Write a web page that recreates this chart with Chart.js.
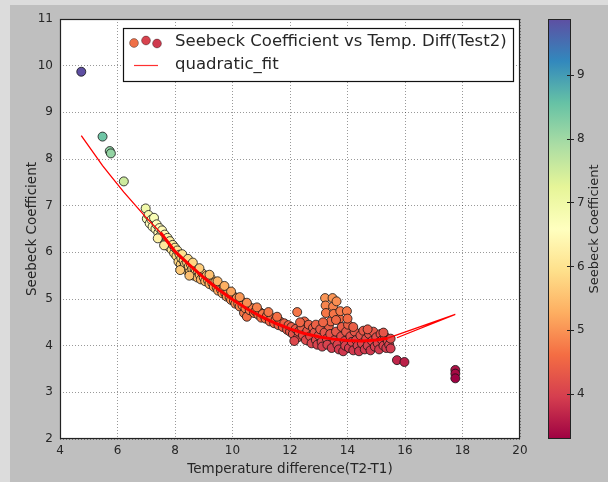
<!DOCTYPE html>
<html><head><meta charset="utf-8">
<script src="https://cdn.jsdelivr.net/npm/chart.js@4.4.0/dist/chart.umd.min.js"></script>
<style>html,body{margin:0;padding:0;background:#d9d9d9;}canvas{display:block;}</style>
</head><body>
<canvas id="c" width="608" height="482"></canvas>
<script>
// ---- data ----
const seriesLabel = 'Seebeck Coefficient vs Temp. Diff(Test2)';
const fitLabel = 'quadratic_fit';
const xTitle = 'Temperature difference(T2-T1)';
const yTitle = 'Seebeck Coefficient';
const cbarTitle = 'Seebeck Coefficient';

// [temperature difference, seebeck coefficient]
const measured = [
  [4.74,9.87],[5.48,8.48],[5.73,8.17],[5.77,8.12],[6.22,7.52],[6.98,6.94],
  [7.02,6.72],[7.08,6.80],[7.12,6.62],[7.18,6.70],[7.22,6.55],[7.27,6.74],[7.32,6.50],[7.36,6.60],
  [7.42,6.42],[7.46,6.52],[7.50,6.36],[7.55,6.47],[7.60,6.28],[7.64,6.38],[7.70,6.22],[7.74,6.31],
  [7.78,6.12],[7.82,6.24],[7.88,6.06],[7.92,6.16],[7.97,5.98],[8.00,6.10],[7.40,6.30],[7.62,6.15],
  [8.05,5.92],[8.08,6.04],[8.12,5.80],[8.16,5.95],[8.20,5.74],[8.22,5.88],[8.28,5.66],[8.30,5.82],
  [8.35,5.75],[8.40,5.62],[8.42,5.78],[8.48,5.70],[8.52,5.58],[8.55,5.74],[8.60,5.64],[8.65,5.50],
  [8.68,5.66],[8.72,5.58],[8.78,5.46],[8.80,5.60],[8.86,5.52],[8.90,5.42],[8.95,5.55],[9.00,5.46],
  [8.25,5.96],[8.45,5.86],[8.62,5.78],[8.85,5.66],[8.18,5.62],[8.50,5.50],
  [9.05,5.38],[9.10,5.50],[9.15,5.40],[9.20,5.32],[9.25,5.44],[9.30,5.34],[9.35,5.26],[9.40,5.36],
  [9.45,5.25],[9.50,5.18],[9.55,5.29],[9.60,5.20],[9.65,5.12],[9.70,5.22],[9.75,5.12],[9.80,5.05],
  [9.85,5.15],[9.90,5.04],[9.95,4.98],[10.00,5.08],[9.20,5.52],[9.48,5.38],[9.72,5.28],[9.95,5.16],
  [10.05,4.96],[10.10,4.90],[10.15,5.02],[10.20,4.90],[10.25,4.84],[10.30,4.96],[10.35,4.86],[10.40,4.70],
  [10.45,4.80],[10.50,4.62],[10.55,4.85],[10.60,4.76],[10.70,4.80],[10.75,4.70],[10.80,4.74],[10.90,4.66],
  [10.95,4.72],[11.00,4.60],[10.25,5.04],[10.50,4.92],[10.85,4.82],
  [11.05,4.68],[11.15,4.58],[11.20,4.64],[11.30,4.52],[11.35,4.60],[11.45,4.48],[11.50,4.56],[11.60,4.44],
  [11.65,4.52],[11.75,4.40],[11.80,4.48],[11.90,4.34],[11.95,4.44],[12.00,4.30],[11.25,4.72],[11.55,4.62],
  [12.05,4.40],[12.10,4.25],[12.20,4.36],[12.25,4.72],[12.28,4.18],[12.30,4.30],[12.40,4.40],[12.45,4.22],
  [12.50,4.52],[12.55,4.12],[12.60,4.32],[12.65,4.45],[12.70,4.20],[12.75,4.05],[12.80,4.38],[12.85,4.28],
  [12.90,4.12],[12.95,4.02],[13.00,4.22],[12.15,4.10],[12.35,4.50],[12.90,4.45],
  [13.05,4.35],[13.10,4.08],[13.12,3.98],[13.20,4.28],[13.22,5.02],[13.24,4.86],[13.25,4.70],[13.28,4.15],
  [13.30,4.02],[13.35,4.42],[13.40,4.25],[13.42,4.52],[13.45,3.95],[13.48,5.02],[13.50,4.84],[13.52,4.68],
  [13.55,4.12],[13.60,4.30],[13.62,4.95],[13.65,4.02],[13.70,3.92],[13.72,4.58],[13.75,4.74],[13.78,4.20],
  [13.80,4.40],[13.85,3.88],[13.90,4.10],[13.92,4.00],[13.95,4.30],[13.98,4.74],[13.15,4.50],[13.60,4.55],
  [14.02,4.45],[14.05,3.95],[14.10,4.20],[14.15,4.08],[14.20,3.90],[14.25,4.30],[14.30,4.12],[14.35,4.00],
  [14.40,3.88],[14.45,4.22],[14.50,4.05],[14.55,4.32],[14.60,3.92],[14.65,4.15],[14.70,4.00],[14.75,4.25],
  [14.80,3.90],[14.85,4.10],[14.90,4.30],[14.95,3.98],[15.00,4.18],[15.05,4.05],[15.10,3.92],[15.15,4.25],
  [15.20,4.12],[15.25,4.00],[15.30,4.20],[15.35,3.95],[15.40,4.10],[15.45,4.02],[15.50,3.94],[15.50,4.15],
  [14.20,4.40],[14.00,4.58],[14.70,4.35],[15.25,4.28],
  [15.72,3.69],[15.98,3.65],[17.75,3.48],[17.75,3.40],[17.75,3.30]
];

// quadratic fit curve as drawn (in data order, incl. the return stroke)
const fitCurve = [
  [4.74,8.50],[5.48,7.86],[5.75,7.65],[6.22,7.29],[6.96,6.77],[7.50,6.42],[8.00,6.02],[8.50,5.73],
  [9.00,5.46],[9.50,5.21],[10.00,4.99],[10.50,4.79],[11.00,4.62],[11.50,4.48],[12.00,4.36],[12.50,4.26],
  [13.00,4.19],[13.50,4.14],[14.00,4.11],[14.50,4.10],[15.00,4.12],[15.40,4.16],[17.75,4.67],[15.72,4.17]
];

const xTickValues = [4,6,8,10,12,14,16,18,20];
const yTickValues = [2,3,4,5,6,7,8,9,10,11];
const cbarTickValues = [4,5,6,7,8,9];

// ---- colormap (Spectral) ----
const spectralStops = ['#9e0142','#d53e4f','#f46d43','#fdae61','#fee08b','#ffffbf','#e6f598','#abdda4','#66c2a5','#3288bd','#5e4fa2'];
function hex(h){return [parseInt(h.slice(1,3),16),parseInt(h.slice(3,5),16),parseInt(h.slice(5,7),16)];}
function spectral(t){
  t = Math.max(0, Math.min(1, t));
  const p = t*(spectralStops.length-1);
  const i = Math.min(Math.floor(p), spectralStops.length-2);
  const f = p - i;
  const a = hex(spectralStops[i]), b = hex(spectralStops[i+1]);
  return `rgb(${Math.round(a[0]+(b[0]-a[0])*f)},${Math.round(a[1]+(b[1]-a[1])*f)},${Math.round(a[2]+(b[2]-a[2])*f)})`;
}
const ys = measured.map(p=>p[1]);
const cMin = Math.min(...ys), cMax = Math.max(...ys);

const FONT = 'DejaVu Sans';
const TXT = '#262626';

const decor = {
  id:'decor',
  beforeDraw(chart){
    const {ctx, chartArea:a} = chart;
    ctx.save();
    ctx.fillStyle = '#dcdcdc'; ctx.fillRect(0,0,chart.width,chart.height);
    ctx.fillStyle = '#bfbfbf'; ctx.fillRect(10,5,chart.width-10,chart.height-5);
    ctx.fillStyle = '#ffffff'; ctx.fillRect(a.left,a.top,a.right-a.left,a.bottom-a.top);
    ctx.restore();
  },
  afterDraw(chart){
    const {ctx, chartArea:a} = chart;
    const cb = chart.scales.cbar;
    ctx.save();
    // frame
    ctx.strokeStyle = '#222'; ctx.lineWidth = 1.2;
    ctx.strokeRect(a.left+0.5, a.top+0.5, a.right-a.left-1, a.bottom-a.top-1);
    // colorbar
    const cx0 = 548, cx1 = 571;
    const top = cb.getPixelForValue(cMax), bot = cb.getPixelForValue(cMin);
    const g = ctx.createLinearGradient(0, bot, 0, top);
    spectralStops.forEach((c,i)=>g.addColorStop(i/(spectralStops.length-1), c));
    ctx.fillStyle = g; ctx.fillRect(cx0, top, cx1-cx0, bot-top);
    ctx.strokeStyle = '#222'; ctx.lineWidth = 1;
    ctx.strokeRect(cx0+0.5, top+0.5, cx1-cx0-1, bot-top-1);
    cbarTickValues.forEach(v=>{
      const y = Math.round(cb.getPixelForValue(v))+0.5;
      ctx.beginPath(); ctx.moveTo(cx1-4,y); ctx.lineTo(cx1+3,y); ctx.stroke();
    });
    ctx.fillStyle = TXT; ctx.font = `13px "${FONT}"`;
    ctx.textAlign = 'center'; ctx.textBaseline = 'middle';
    ctx.translate(595, (top+bot)/2); ctx.rotate(-Math.PI/2);
    ctx.fillText(cbarTitle, 0, 0);
    ctx.restore();
    // legend
    ctx.save();
    const lx = 123, ly = 28, lw = 390, lh = 53;
    ctx.fillStyle = '#fff'; ctx.fillRect(lx, ly, lw, lh);
    ctx.strokeStyle = '#111'; ctx.lineWidth = 1.2; ctx.strokeRect(lx+0.5, ly+0.5, lw, lh);
    const dots = [[134,43,'#ef7048'],[146,40.5,'#d8434e'],[157,43.5,'#cf3a4e']];
    dots.forEach(([x,y,c])=>{
      ctx.beginPath(); ctx.arc(x,y,4.4,0,Math.PI*2); ctx.fillStyle=c; ctx.fill();
      ctx.strokeStyle='rgba(0,0,0,0.45)'; ctx.lineWidth=0.8; ctx.stroke();
    });
    ctx.strokeStyle = '#ff3030'; ctx.lineWidth = 1.2;
    ctx.beginPath(); ctx.moveTo(134,65.5); ctx.lineTo(158,65.5); ctx.stroke();
    ctx.fillStyle = TXT; ctx.font = `16.5px "${FONT}"`; ctx.textAlign='left'; ctx.textBaseline='middle';
    ctx.fillText(chart.data.datasets[1].label, 175, 42);
    ctx.fillText(chart.data.datasets[0].label, 175, 65);
    ctx.restore();
  }
};

const gridCommon = {color:'rgba(0,0,0,0.4)', lineWidth:1, drawTicks:false};
const borderCommon = {display:false, dash:[1,2]};
function zeroPad(s){ s.paddingTop = 0; s.paddingBottom = 0; s.paddingLeft = 0; s.paddingRight = 0; }

new Chart(document.getElementById('c'), {
  type:'scatter',
  data:{datasets:[
    {type:'line', label:fitLabel, data:fitCurve.map(p=>({x:p[0],y:p[1]})), borderColor:'#ff0000',
     borderWidth:1.2, pointRadius:0, tension:0, fill:false, order:0,
     segment:{borderWidth: c => (c.p0.parsed.x>=7.4 && c.p1.parsed.x>=7.4 && c.p1.parsed.x<=15.5 && c.p0.parsed.x<=15.5) ? 3 : 1.3}},
    {type:'scatter', label:seriesLabel, data:measured.map(p=>({x:p[0],y:p[1]})), order:1,
     pointRadius:4.5, pointHoverRadius:4.5, borderWidth:1, borderColor:'rgba(20,20,20,0.8)',
     backgroundColor: c => (c.raw ? spectral((c.raw.y-cMin)/(cMax-cMin)) : '#888')}
  ]},
  options:{
    responsive:false, animation:false, devicePixelRatio:1,
    layout:{padding:{top:19,left:0,right:0,bottom:0}},
    plugins:{legend:{display:false}, tooltip:{enabled:false}},
    scales:{
      x:{type:'linear', position:'bottom', min:4, max:20,
         afterBuildTicks: s => { s.ticks = xTickValues.map(v=>({value:v})); },
         afterFit: s => { s.height = 43; zeroPad(s); },
         grid:gridCommon, border:borderCommon,
         ticks:{autoSkip:false, maxRotation:0, padding:5, color:TXT, font:{family:FONT,size:12}},
         title:{display:true, text:xTitle, color:TXT, font:{family:FONT,size:13.5}, padding:{top:0,bottom:4}}},
      y:{type:'linear', position:'left', min:2, max:11,
         afterBuildTicks: s => { s.ticks = yTickValues.map(v=>({value:v})); },
         afterFit: s => { s.width = 60; zeroPad(s); },
         grid:gridCommon, border:borderCommon,
         ticks:{autoSkip:false, padding:7, color:TXT, font:{family:FONT,size:12}},
         title:{display:true, text:yTitle, color:TXT, font:{family:FONT,size:13.5}, padding:{top:24,bottom:0}}},
      cbar:{type:'linear', position:'right', min:cMin, max:cMax,
         afterBuildTicks: s => { s.ticks = cbarTickValues.map(v=>({value:v})); },
         afterFit: s => { s.width = 88; zeroPad(s); },
         grid:{display:false, drawTicks:false}, border:{display:false},
         ticks:{autoSkip:false, padding:57, color:TXT, font:{family:FONT,size:12}}}
    }
  },
  plugins:[decor]
});
</script>
</body></html>
